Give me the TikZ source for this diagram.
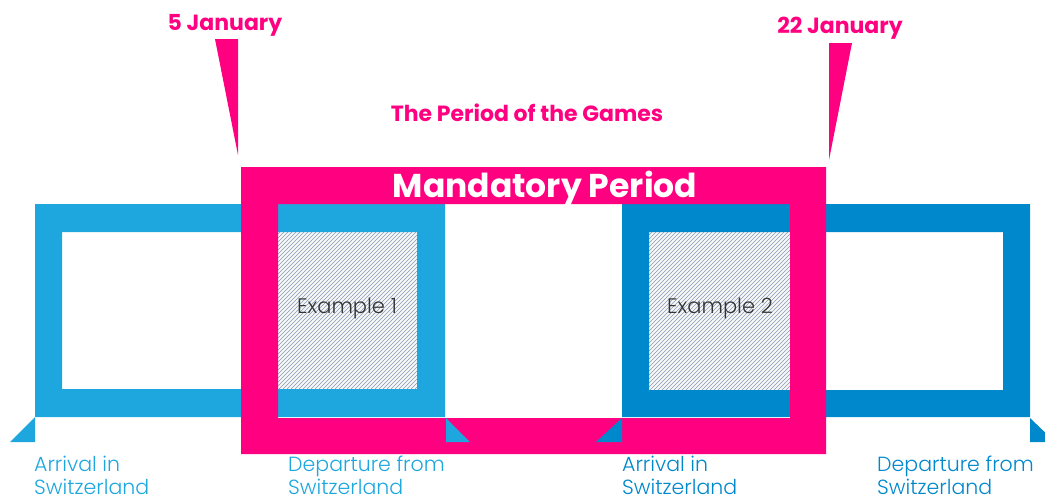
\documentclass[tikz,border=0pt]{standalone}
\usepackage{fontspec}
\setmainfont{Poppins}
\newfontfamily\lightfont{Poppins Light}

\definecolor{games}{HTML}{FF0080}
\definecolor{lightblue}{HTML}{1EA7DF}
\definecolor{darkblue}{HTML}{0088CD}
\definecolor{hatch}{HTML}{8498B4}

\tikzset{
	datelabel/.style={anchor=base,text=games,font=\fontsize{22}{26}\selectfont\bfseries},
	stay/.style={anchor=base west,align=left,font=\lightfont\fontsize{20.5}{23}\selectfont},
	example/.style={anchor=base,text=black!80,font=\lightfont\fontsize{21}{24}\selectfont},
	hatchline/.style={draw=hatch,line width=0.6pt}
}

\begin{document}
\begin{tikzpicture}[x=1pt,y=-1pt,every node/.style={inner sep=0pt}]
		\useasboundingbox (0,0) rectangle (1045,499);
		
		% overlap of the stays with the mandatory period
		\begin{scope}
			\clip (278,232) rectangle (417,389);
			\fill[black!3] (278,232) rectangle (417,389);
			\foreach \x in {114,118,...,418} \draw[hatchline] (\x,390) -- ++(160,-160);
		\end{scope}
		\begin{scope}
			\clip (649,232) rectangle (790,390);
			\fill[black!3] (649,232) rectangle (790,390);
			\foreach \x in {485,489,...,790} \draw[hatchline] (\x,391) -- ++(160,-160);
		\end{scope}
		
		% the two stays
		\fill[lightblue,even odd rule] (35,204) rectangle (445,417) (62,232) rectangle (417,389);
		\fill[darkblue,even odd rule] (622,204) rectangle (1030,417) (649,232) rectangle (1003,390);
		
		% mandatory period
		\fill[games,even odd rule] (241,167) rectangle (826,454) (278,204) rectangle (790,418);
		
		% date pointers
		\fill[games] (215,39) -- (238,39) -- (238,155) -- cycle;
		\fill[games] (829,43) -- (852,43) -- (829,160) -- cycle;
		
		% arrival / departure marks
		\fill[lightblue] (35,417) -- (35,442) -- (10,442) -- cycle;
		\fill[lightblue] (446,418) -- (446,442) -- (470,442) -- cycle;
		\fill[darkblue] (622,418) -- (622,442) -- (596,442) -- cycle;
		\fill[darkblue] (1030,418) -- (1030,442) -- (1055,442) -- cycle;
		
		\node[datelabel] (jan5) at (225,30) {5 January};
		\node[datelabel] (jan22) at (840,33) {22 January};
		\node[datelabel] (games) at (527,121) {The Period of the Games};
		\node[anchor=base,text=white,font=\fontsize{33}{36}\selectfont\bfseries] (mandatory) at (545,197) {Mandatory Period};
		
		\node[example] (ex1) at (347,313) {Example 1};
		\node[example] (ex2) at (720,313) {Example 2};
		
		\node[stay,text=lightblue] (arr1) at (34,494) {Arrival in\\Switzerland};
		\node[stay,text=lightblue] (dep1) at (288,494) {Departure from\\Switzerland};
		\node[stay,text=darkblue] (arr2) at (622,494) {Arrival in\\Switzerland};
		\node[stay,text=darkblue] (dep2) at (877,494) {Departure from\\Switzerland};
		
	\end{tikzpicture}
\end{document}
